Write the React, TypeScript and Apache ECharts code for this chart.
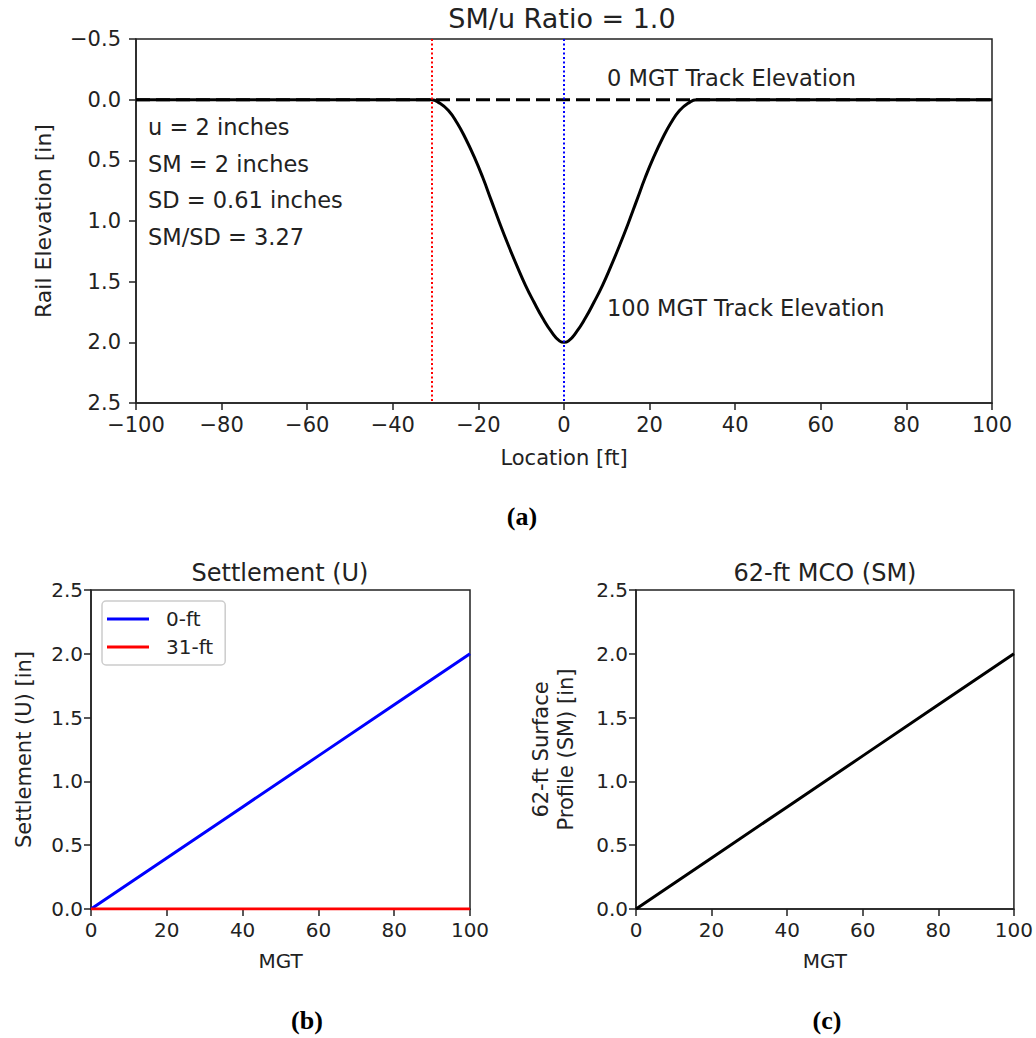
import React, { useEffect, useRef } from "react";
import * as echarts from "echarts";

// ---- Panel (a): rail elevation profile ----
const profileX = [-100, -31, -29, -27, -25, -23, -21, -19, -17, -15, -13, -11, -9, -7, -5, -3, -1, 0, 1, 3, 5, 7, 9, 11, 13, 15, 17, 19, 21, 23, 25, 27, 29, 31, 100];
const profileY = [0, 0, 0.03, 0.09, 0.19, 0.32, 0.47, 0.64, 0.83, 1.02, 1.2, 1.37, 1.53, 1.67, 1.8, 1.91, 1.99, 2.0, 1.99, 1.91, 1.8, 1.67, 1.53, 1.37, 1.2, 1.02, 0.83, 0.64, 0.47, 0.32, 0.19, 0.09, 0.03, 0, 0];
const baselineX = [-100, 100];
const baselineY = [0, 0];
const redMarkerX = -31;
const blueMarkerX = 0;
const annotationLines = ["u = 2 inches", "SM = 2 inches", "SD = 0.61 inches", "SM/SD = 3.27"];

// ---- Panel (b) and (c) ----
const mgt = [0, 20, 40, 60, 80, 100];
const settlement0ft = [0, 0.4, 0.8, 1.2, 1.6, 2.0];
const settlement31ft = [0, 0, 0, 0, 0, 0];
const surfaceProfile = [0, 0.4, 0.8, 1.2, 1.6, 2.0];

const FONT = "DejaVu Sans";
const INK = "#222";

const pairs = (xs: number[], ys: number[]) => xs.map((x, i) => [x, ys[i]]);
const minus = (s: string) => s.replace("-", "\u2212");

function axisCommon(fontSize: number, margin: number) {
  return {
    axisLine: { show: true, onZero: false, lineStyle: { color: INK, width: 1.5 } },
    axisTick: { show: true, length: 7, lineStyle: { color: INK, width: 1.5 } },
    splitLine: { show: false },
    axisLabel: { color: INK, fontSize, fontFamily: FONT, margin },
    nameTextStyle: { color: INK, fontFamily: FONT },
  };
}

export default function App() {
  const ref = useRef<HTMLDivElement>(null);
  useEffect(() => {
    if (!ref.current) return;
    const chart = echarts.init(ref.current, null, { renderer: "svg" });
    const gridStyle = { show: true, borderColor: INK, borderWidth: 1.5, containLabel: false };
    const graphic: any[] = [
      { type: "text", x: 562, y: 18, style: { text: "SM/u Ratio = 1.0", fontSize: 27, fontFamily: FONT, fill: INK, align: "center", verticalAlign: "middle" } },
      { type: "text", x: 280, y: 573, style: { text: "Settlement (U)", fontSize: 24, fontFamily: FONT, fill: INK, align: "center", verticalAlign: "middle" } },
      { type: "text", x: 825, y: 573, style: { text: "62-ft MCO (SM)", fontSize: 24, fontFamily: FONT, fill: INK, align: "center", verticalAlign: "middle" } },
      { type: "text", x: 607, y: 78, style: { text: "0 MGT Track Elevation", fontSize: 22.5, fontFamily: FONT, fill: INK, align: "left", verticalAlign: "middle" } },
      { type: "text", x: 607, y: 308, style: { text: "100 MGT Track Elevation", fontSize: 22.5, fontFamily: FONT, fill: INK, align: "left", verticalAlign: "middle" } },
      { type: "text", x: 522, y: 516, style: { text: "(a)", fontSize: 26, fontWeight: "bold", fontFamily: "Liberation Serif", fill: "#000", align: "center", verticalAlign: "middle" } },
      { type: "text", x: 307, y: 1020, style: { text: "(b)", fontSize: 26, fontWeight: "bold", fontFamily: "Liberation Serif", fill: "#000", align: "center", verticalAlign: "middle" } },
      { type: "text", x: 827, y: 1020, style: { text: "(c)", fontSize: 26, fontWeight: "bold", fontFamily: "Liberation Serif", fill: "#000", align: "center", verticalAlign: "middle" } },
    ];
    annotationLines.forEach((t, i) => {
      graphic.push({ type: "text", x: 148, y: 127 + i * 36.7, style: { text: t, fontSize: 22.5, fontFamily: FONT, fill: INK, align: "left", verticalAlign: "middle" } });
    });

    const option: any = {
      animation: false,
      backgroundColor: "#fff",
      textStyle: { fontFamily: FONT },
      grid: [
        { left: 136, top: 39, width: 856, height: 364, ...gridStyle },
        { left: 91, top: 590, width: 379, height: 319, ...gridStyle },
        { left: 636, top: 590, width: 379, height: 319, ...gridStyle },
      ],
      xAxis: [
        {
          gridIndex: 0, type: "value", min: -100, max: 100, interval: 20,
          name: "Location [ft]", nameLocation: "middle", nameGap: 44,
          ...axisCommon(21, 11),
          axisLabel: { color: INK, fontSize: 21, fontFamily: FONT, margin: 11, formatter: (v: number) => minus(String(v)) },
          nameTextStyle: { color: INK, fontFamily: FONT, fontSize: 21 },
        },
        {
          gridIndex: 1, type: "value", min: 0, max: 100, interval: 20,
          name: "MGT", nameLocation: "middle", nameGap: 42,
          ...axisCommon(20, 11),
          nameTextStyle: { color: INK, fontFamily: FONT, fontSize: 20 },
        },
        {
          gridIndex: 2, type: "value", min: 0, max: 100, interval: 20,
          name: "MGT", nameLocation: "middle", nameGap: 42,
          ...axisCommon(20, 11),
          nameTextStyle: { color: INK, fontFamily: FONT, fontSize: 20 },
        },
      ],
      yAxis: [
        {
          gridIndex: 0, type: "value", min: -0.5, max: 2.5, interval: 0.5, inverse: true,
          name: "Rail Elevation [in]", nameLocation: "middle", nameGap: 82,
          ...axisCommon(21, 15),
          axisLabel: { color: INK, fontSize: 21, fontFamily: FONT, margin: 15, formatter: (v: number) => minus(v.toFixed(1)) },
          nameTextStyle: { color: INK, fontFamily: FONT, fontSize: 22 },
        },
        {
          gridIndex: 1, type: "value", min: 0, max: 2.5, interval: 0.5,
          name: "Settlement (U) [in]", nameLocation: "middle", nameGap: 57,
          ...axisCommon(20, 8),
          axisLabel: { color: INK, fontSize: 20, fontFamily: FONT, margin: 8, formatter: (v: number) => v.toFixed(1) },
          nameTextStyle: { color: INK, fontFamily: FONT, fontSize: 21 },
        },
        {
          gridIndex: 2, type: "value", min: 0, max: 2.5, interval: 0.5,
          name: "62-ft Surface\nProfile (SM) [in]", nameLocation: "middle", nameGap: 58,
          ...axisCommon(20, 8),
          axisLabel: { color: INK, fontSize: 20, fontFamily: FONT, margin: 8, formatter: (v: number) => v.toFixed(1) },
          nameTextStyle: { color: INK, fontFamily: FONT, fontSize: 21, lineHeight: 25 },
        },
      ],
      legend: {
        data: ["0-ft", "31-ft"],
        orient: "vertical",
        left: 102, top: 601,
        icon: "rect",
        itemWidth: 42, itemHeight: 3,
        itemGap: 8,
        padding: [8, 12, 8, 5],
        borderColor: "#ccc", borderWidth: 1.5, borderRadius: 4,
        textStyle: { color: INK, fontSize: 20, fontFamily: FONT, padding: [0, 0, 0, 12] },
      },
      graphic,
      series: [
        {
          type: "line", xAxisIndex: 0, yAxisIndex: 0, data: pairs(baselineX, baselineY),
          showSymbol: false, lineStyle: { color: "#000", width: 3, type: [14, 6] }, z: 2,
        },
        {
          type: "line", xAxisIndex: 0, yAxisIndex: 0, data: pairs(profileX, profileY),
          showSymbol: false, smooth: 0.5, lineStyle: { color: "#000", width: 3 }, z: 3,
          markLine: {
            silent: true, symbol: "none", label: { show: false },
            data: [
              { xAxis: redMarkerX, lineStyle: { color: "#ff0000", width: 2, type: [2, 2.5] } },
              { xAxis: blueMarkerX, lineStyle: { color: "#0000ff", width: 2, type: [2, 2.5] } },
            ],
          },
        },
        {
          name: "0-ft", type: "line", xAxisIndex: 1, yAxisIndex: 1, data: pairs(mgt, settlement0ft),
          showSymbol: false, lineStyle: { color: "#0000ff", width: 3 }, itemStyle: { color: "#0000ff" },
        },
        {
          name: "31-ft", type: "line", xAxisIndex: 1, yAxisIndex: 1, data: pairs(mgt, settlement31ft),
          showSymbol: false, lineStyle: { color: "#ff0000", width: 3 }, itemStyle: { color: "#ff0000" },
        },
        {
          type: "line", xAxisIndex: 2, yAxisIndex: 2, data: pairs(mgt, surfaceProfile),
          showSymbol: false, lineStyle: { color: "#000", width: 3 },
        },
      ],
    };
    chart.setOption(option);
    return () => chart.dispose();
  }, []);
  return (
    <div
      ref={ref}
      style={{ position: "fixed", left: 0, top: 0, width: 1036, height: 1038, background: "#fff" }}
    />
  );
}
